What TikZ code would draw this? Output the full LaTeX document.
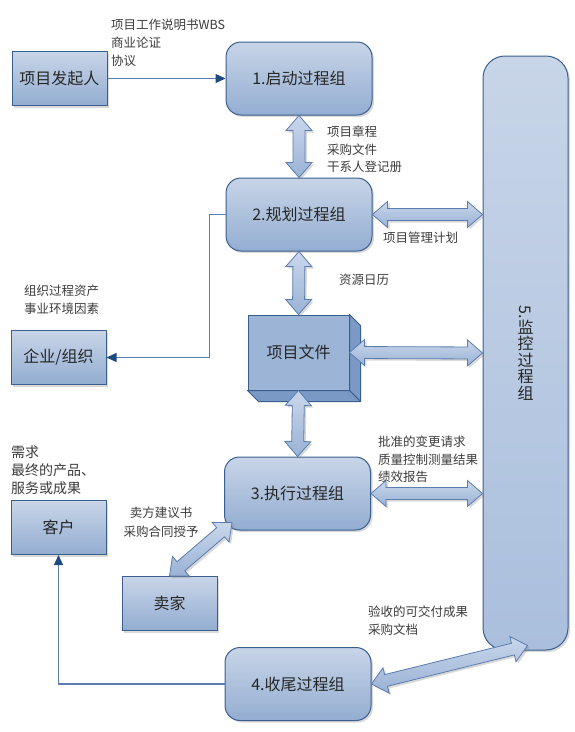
\documentclass[tikz,border=0pt]{standalone}
\usepackage{fontspec}
\setmainfont{Noto Sans CJK SC}
\usetikzlibrary{calc, shadows, arrows.meta}
\definecolor{boxline}{HTML}{3A5F8E}
\definecolor{boxtop}{HTML}{C8D5E8}
\definecolor{boxbot}{HTML}{93ADD1}
\definecolor{montop}{HTML}{C8D5E8}
\definecolor{monbot}{HTML}{AABFDD}
\definecolor{arrtop}{HTML}{C9D7EB}
\definecolor{arrbot}{HTML}{9AB2D5}
\definecolor{arrline}{HTML}{5A7CAE}
\definecolor{connline}{HTML}{5B7DB0}
\definecolor{tipcol}{HTML}{1F4A80}
\definecolor{docfront}{HTML}{9CB5D7}
\definecolor{docside}{HTML}{7B99C5}
\definecolor{lbl}{HTML}{3C3C3C}
\newcommand\dblarrow[2]{%
\draw[blockarrow] (#1)
  -- ($(#1)!15pt!(#2)!13pt!90:(#2)$)
  -- ($(#1)!15pt!(#2)!6pt!90:(#2)$)
  -- ($(#2)!15pt!(#1)!6pt!-90:(#1)$)
  -- ($(#2)!15pt!(#1)!13pt!-90:(#1)$)
  -- (#2)
  -- ($(#2)!15pt!(#1)!13pt!90:(#1)$)
  -- ($(#2)!15pt!(#1)!6pt!90:(#1)$)
  -- ($(#1)!15pt!(#2)!6pt!-90:(#2)$)
  -- ($(#1)!15pt!(#2)!13pt!-90:(#2)$)
  -- cycle;}

\begin{document}
\begin{tikzpicture}[x=1pt, y=-1pt,
  shade/.style={drop shadow={shadow xshift=2pt, shadow yshift=-2pt, opacity=.3}},
  proc/.style={draw=boxline, line width=1pt, rounded corners=15pt, top color=boxtop, bottom color=boxbot, minimum width=146pt, minimum height=73pt, font=\fontsize{16}{19}\selectfont, text=black!85, shade},
  ent/.style={draw=boxline, line width=1pt, top color=boxtop, bottom color=boxbot, minimum width=95pt, minimum height=54pt, font=\fontsize{16}{19}\selectfont, text=black!85, shade},
  mon/.style={draw=boxline, line width=1pt, rounded corners=22pt, top color=montop, bottom color=monbot, minimum width=85pt, minimum height=594pt, align=center, font=\fontsize{16}{16.5}\selectfont, text=black!85, shade},
  docs/.style={draw=boxline, line width=1pt, fill=docfront, minimum width=101pt, minimum height=75pt, font=\fontsize{16}{19}\selectfont, text=black!85},
  blockarrow/.style={draw=arrline, line width=.8pt, top color=arrtop, bottom color=arrbot, line join=miter, shade},
  conn/.style={draw=connline, line width=1.3pt, -{Triangle[length=10pt, width=9pt, color=tipcol]}},
  lbl/.style={anchor=north west, inner sep=0pt, align=left, text=lbl, font=\fontsize{12.5}{18}\selectfont}]
\useasboundingbox (0,0) rectangle (575,732);

% process groups
\node[mon] (mon) at (525.5,353) {\rotatebox{-90}{5.}\\监\\控\\过\\程\\组};
\node[proc] (init) at (299,78.5) {1.启动过程组};
\node[proc] (plan) at (299,214.5) {2.规划过程组};
\node[proc] (exec) at (297.5,493.5) {3.执行过程组};
\node[proc] (close) at (298,684) {4.收尾过程组};

% outside parties
\node[ent] (sponsor) at (59.5,78.5) {项目发起人};
\node[ent] (org) at (58.5,357.5) {企业/组织};
\node[ent] (client) at (58.5,527.5) {客户};
\node[ent] (seller) at (169.5,603.5) {卖家};

% project documents
\node[docs] (docs) at (298.5,352.5) {项目文件};
\draw[draw=boxline, line width=1pt, fill=docside, line join=round] (docs.north east) -- +(11,11) -- ($(docs.south east)+(11,11)$) -- (docs.south east) -- cycle;
\draw[draw=boxline, line width=1pt, fill=docside, line join=round] (docs.south west) -- +(11,11) -- ($(docs.south east)+(11,11)$) -- (docs.south east) -- cycle;

% free ends
\coordinate (m2) at (plan.east -| mon.west);
\coordinate (m3) at (exec.east -| mon.west);
\coordinate (m4) at ($(mon.south)+(2,-5)$);
\coordinate (exsw) at ($(exec.south west)+(8,-8)$);

% thin connectors
\draw[conn] (sponsor.east) -- (init.west);
\draw[conn] (plan.west) -- ++(-16,0) |- (org.east);
\draw[conn] (close.west) -| (client.south);

% block arrows
\dblarrow{init.south}{plan.north}
\dblarrow{plan.south}{docs.north}
\dblarrow{docs.south}{exec.north}
\dblarrow{plan.east}{m2}
\dblarrow{docs.east}{mon.west}
\dblarrow{exec.east}{m3}
\dblarrow{exsw}{seller.north}
\dblarrow{close.east}{m4}

% labels
\node[lbl] (l1) at (111,19) {项目工作说明书WBS\\商业论证\\协议};
\node[lbl, font=\fontsize{12.5}{17.5}\selectfont] (l2) at (327,126) {项目章程\\采购文件\\干系人登记册};
\node[lbl] (l3) at (383,232) {项目管理计划};
\node[lbl] (l4) at (339,274) {资源日历};
\node[lbl] (l5) at (24,285) {组织过程资产\\事业环境因素};
\node[lbl, font=\fontsize{12.5}{17.5}\selectfont] (l6) at (378,436) {批准的变更请求\\质量控制测量结果\\绩效报告};
\node[lbl, font=\fontsize{14}{18}\selectfont] (l7) at (11,445.5) {需求\\最终的产品、\\服务或成果};
\node[lbl, anchor=north, align=center, font=\fontsize{12.5}{19}\selectfont] (l8) at (161,507) {卖方建议书\\采购合同授予};
\node[lbl] (l9) at (368,606) {验收的可交付成果\\采购文档};
\end{tikzpicture}
\end{document}
